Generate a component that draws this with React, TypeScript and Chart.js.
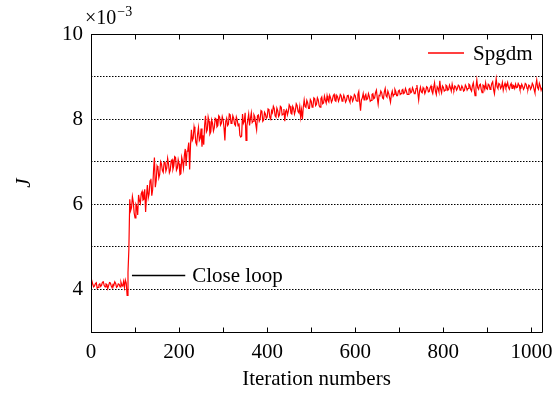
import React, { useEffect, useRef } from "react";
import { Chart, registerables } from "chart.js";

Chart.register(...registerables);

// ---- data (J values in units of 1e-3, sampled every STEP iterations) ----
const STEP = 2;
const jValues = [
  4.15, 4.20, 4.12, 4.06, 4.08, 4.14, 4.16, 4.03, 4.05, 4.11, 4.13, 4.07, 4.10, 4.17, 4.18, 4.09, 4.06, 4.13, 4.12, 4.02, 4.09, 4.16, 4.15, 4.08, 4.04, 4.12, 4.11, 4.18, 4.14, 4.05, 4.07, 4.13,
  4.12, 4.06, 4.17, 4.10, 4.08, 4.19, 4.05, 4.22, 4.15, 3.86, 4.40, 4.95, 6.12, 5.85, 5.92, 6.18, 6.05, 5.80, 5.68, 6.00, 5.95, 5.75, 6.22, 6.08, 6.02, 6.25, 6.30, 6.10, 6.12, 6.35, 5.82, 6.20,
  6.45, 6.15, 6.25, 6.55, 6.60, 6.20, 6.35, 6.80, 7.10, 6.40, 6.55, 6.90, 6.85, 6.62, 6.70, 7.00, 6.95, 6.80, 6.75, 6.98, 7.00, 6.78, 6.85, 7.08, 6.95, 6.74, 6.80, 7.02, 7.05, 6.82, 6.90, 7.12,
  7.10, 6.80, 6.85, 7.05, 6.95, 6.70, 6.72, 7.10, 7.00, 6.85, 7.15, 7.30, 6.90, 7.25, 7.30, 7.45, 6.82, 7.40, 7.75, 7.50, 7.55, 7.82, 7.70, 7.45, 7.40, 7.65, 7.80, 7.50, 7.55, 7.78, 7.35, 7.62,
  7.40, 7.85, 8.08, 7.70, 7.75, 8.05, 7.95, 7.65, 7.70, 7.98, 7.90, 7.72, 7.80, 8.02, 8.00, 7.82, 7.85, 8.08, 8.05, 7.86, 7.90, 8.06, 7.98, 7.80, 7.50, 7.95, 8.02, 7.85, 7.88, 8.12, 8.10, 7.90,
  7.92, 8.08, 8.02, 7.88, 7.85, 8.05, 7.98, 7.84, 7.90, 7.62, 7.58, 7.60, 8.12, 7.90, 7.95, 8.15, 7.50, 7.85, 7.98, 8.12, 7.85, 8.02, 8.15, 7.92, 7.95, 8.10, 8.05, 7.88, 7.75, 8.08, 8.10, 7.95,
  8.00, 8.20, 8.18, 7.95, 7.98, 8.16, 8.12, 8.02, 8.05, 8.24, 8.22, 8.04, 8.00, 8.20, 8.15, 8.30, 8.25, 8.08, 8.05, 8.26, 8.20, 8.06, 8.10, 8.30, 8.28, 8.10, 8.12, 8.24, 7.95, 8.18, 8.22, 8.10,
  8.18, 8.34, 8.30, 8.14, 8.12, 8.30, 8.25, 8.12, 8.20, 8.36, 8.32, 8.18, 8.15, 8.30, 8.05, 8.22, 8.00, 8.28, 8.45, 8.30, 8.28, 8.44, 8.38, 8.25, 8.25, 8.46, 8.42, 8.28, 8.30, 8.50, 8.48, 8.32,
  8.35, 8.50, 8.45, 8.32, 8.28, 8.48, 8.52, 8.36, 8.38, 8.54, 8.45, 8.38, 8.55, 8.44, 8.40, 8.56, 8.50, 8.40, 8.45, 8.55, 8.58, 8.44, 8.42, 8.56, 8.52, 8.42, 8.48, 8.58, 8.55, 8.42, 8.46, 8.56,
  8.50, 8.40, 8.44, 8.55, 8.56, 8.45, 8.40, 8.54, 8.52, 8.42, 8.47, 8.58, 8.55, 8.44, 8.42, 8.58, 8.65, 8.40, 8.20, 8.45, 8.50, 8.60, 8.45, 8.54, 8.58, 8.46, 8.48, 8.60, 8.53, 8.42, 8.44, 8.58,
  8.60, 8.48, 8.50, 8.62, 8.68, 8.50, 8.35, 8.56, 8.55, 8.66, 8.62, 8.50, 8.48, 8.64, 8.72, 8.55, 8.52, 8.66, 8.60, 8.50, 8.40, 8.58, 8.66, 8.54, 8.58, 8.70, 8.65, 8.55, 8.55, 8.66, 8.68, 8.58,
  8.60, 8.68, 8.70, 8.60, 8.62, 8.72, 8.66, 8.58, 8.58, 8.70, 8.72, 8.62, 8.64, 8.74, 8.68, 8.60, 8.60, 8.72, 8.80, 8.62, 8.45, 8.66, 8.75, 8.64, 8.62, 8.74, 8.70, 8.60, 8.66, 8.76, 8.74, 8.64,
  8.65, 8.74, 8.78, 8.66, 8.60, 8.74, 8.85, 8.66, 8.58, 8.76, 8.72, 8.64, 8.90, 8.70, 8.62, 8.78, 8.75, 8.66, 8.68, 8.80, 8.78, 8.68, 8.70, 8.80, 8.74, 8.66, 8.82, 8.72, 8.68, 8.78, 8.76, 8.68,
  8.72, 8.80, 8.78, 8.68, 8.70, 8.78, 8.74, 8.66, 8.68, 8.80, 8.76, 8.68, 8.72, 8.82, 8.80, 8.70, 8.66, 8.78, 8.85, 8.70, 8.55, 8.74, 8.92, 8.74, 8.70, 8.80, 8.82, 8.70, 8.62, 8.80, 8.78, 8.70,
  8.85, 8.72, 8.70, 8.82, 8.80, 8.70, 8.74, 8.84, 8.88, 8.70, 8.60, 8.78, 8.95, 8.76, 8.72, 8.84, 8.82, 8.72, 8.76, 8.86, 8.68, 8.78, 8.84, 8.74, 8.78, 8.86, 8.74, 8.70, 8.80, 8.84, 8.72, 8.80,
  8.78, 8.72, 8.82, 8.74, 8.75, 8.84, 8.80, 8.70, 8.72, 8.82, 8.77, 8.70, 8.74, 8.84, 8.82, 8.72, 8.70, 8.80, 8.78, 8.70, 8.74, 8.84, 8.80, 8.70, 8.62, 8.80, 8.92, 8.74, 8.70, 8.84, 8.78, 8.68,
  8.74,
];
const seriesLabel = "Spgdm";
const seriesColor = "#ff0000";
const xTickValues = [0, 100, 200, 300, 400, 500, 600, 700, 800, 900, 1000];
const xLabelValues = [0, 200, 400, 600, 800, 1000];
const yTickValues = [3, 4, 5, 6, 7, 8, 9, 10];
const yLabelValues = [4, 6, 8, 10];
const xMin = 0;
const xMax = 1024;
const yMin = 3;
const yMax = 10;
const xTitle = "Iteration numbers";
const yTitle = "J";
const exponentBase = "×10";
const exponentPower = "−3";
// annotation "Close loop" (data coordinates)
const annotationText = "Close loop";
const annotationFrom = 93;
const annotationTo = 214;
const annotationLevel = 4.35;

const FONT = '"Liberation Serif", "Times New Roman", serif';
const FS = 21;

const points = jValues.map((v, i) => ({ x: i * STEP, y: v }));

const decorPlugin = {
  id: "decor",
  afterDatasetsDraw(chart: any) {
    const { ctx, chartArea: a, scales } = chart;
    const x = scales.x;
    const y = scales.y;
    ctx.save();
    ctx.strokeStyle = "#000";
    ctx.lineWidth = 1;
    ctx.setLineDash([]);
    const L = Math.round(a.left) + 0.5;
    const T = Math.round(a.top) + 0.5;
    const R = Math.round(a.right) + 0.5;
    const B = Math.round(a.bottom) + 0.5;
    ctx.beginPath();
    ctx.rect(L, T, R - L, B - T);
    ctx.stroke();
    // inward ticks on x axis (top and bottom)
    ctx.beginPath();
    for (const v of xTickValues) {
      const px = Math.round(x.getPixelForValue(v)) + 0.5;
      ctx.moveTo(px, B);
      ctx.lineTo(px, B - 5);
      ctx.moveTo(px, T);
      ctx.lineTo(px, T + 5);
    }
    ctx.stroke();

    // legend (inside, top-right)
    const ly = Math.round(a.top + 19);
    ctx.strokeStyle = seriesColor;
    ctx.lineWidth = 1.5;
    ctx.beginPath();
    ctx.moveTo(a.right - 114, ly);
    ctx.lineTo(a.right - 78, ly);
    ctx.stroke();
    ctx.fillStyle = "#000";
    ctx.font = `${FS}px ${FONT}`;
    ctx.textBaseline = "middle";
    ctx.textAlign = "left";
    ctx.fillText(seriesLabel, a.right - 69, ly + 1);

    // annotation
    const ay = Math.round(y.getPixelForValue(annotationLevel)) + 0.5;
    const ax1 = x.getPixelForValue(annotationFrom);
    const ax2 = x.getPixelForValue(annotationTo);
    ctx.strokeStyle = "#000";
    ctx.lineWidth = 1.3;
    ctx.beginPath();
    ctx.moveTo(ax1, ay);
    ctx.lineTo(ax2, ay);
    ctx.stroke();
    ctx.fillText(annotationText, ax2 + 7, ay + 1);

    // exponent label
    ctx.font = `20px ${FONT}`;
    ctx.textBaseline = "alphabetic";
    const ex = a.left - 6;
    const ey = a.top - 10;
    ctx.fillText(exponentBase, ex, ey);
    const w = ctx.measureText(exponentBase).width;
    ctx.font = `14px ${FONT}`;
    ctx.fillText(exponentPower, ex + w + 1, ey - 8);
    ctx.restore();
  },
};

export default function App() {
  const ref = useRef<HTMLCanvasElement | null>(null);
  useEffect(() => {
    if (!ref.current) return;
    const chart = new Chart(ref.current, {
      type: "line",
      data: {
        datasets: [
          {
            label: seriesLabel,
            data: points,
            borderColor: seriesColor,
            borderWidth: 1.2,
            pointRadius: 0,
            tension: 0,
            fill: false,
          },
        ],
      },
      options: {
        animation: false,
        responsive: false,
        devicePixelRatio: 1,
        layout: { padding: { left: 0, right: 10, top: 34, bottom: 0 } },
        plugins: { legend: { display: false }, tooltip: { enabled: false } },
        scales: {
          x: {
            type: "linear",
            min: xMin,
            max: xMax,
            afterBuildTicks: (s: any) => {
              s.ticks = xTickValues.map((v) => ({ value: v }));
            },
            afterFit: (s: any) => {
              s.height = 62;
              s.paddingLeft = 0;
              s.paddingRight = 0;
            },
            grid: { display: false, drawTicks: false },
            border: { display: false },
            ticks: {
              autoSkip: false,
              maxRotation: 0,
              padding: 8,
              color: "#000",
              font: { family: FONT, size: FS },
              callback: (v: any) => (xLabelValues.includes(Number(v)) ? String(v) : ""),
            },
            title: {
              display: true,
              text: xTitle,
              color: "#000",
              font: { family: FONT, size: FS },
              padding: { top: 0, bottom: 2 },
            },
          },
          y: {
            type: "linear",
            min: yMin,
            max: yMax,
            afterBuildTicks: (s: any) => {
              s.ticks = yTickValues.map((v) => ({ value: v }));
            },
            afterFit: (s: any) => {
              s.width = 91;
              s.paddingTop = 0;
              s.paddingBottom = 0;
            },
            grid: { display: true, drawTicks: false, color: "#000", lineWidth: 1 },
            border: { display: false, dash: [1.5, 1.5] },
            ticks: {
              autoSkip: false,
              padding: 8,
              color: "#000",
              font: { family: FONT, size: FS },
              callback: (v: any) => (yLabelValues.includes(Number(v)) ? String(v) : ""),
            },
            title: {
              display: true,
              text: yTitle,
              color: "#000",
              font: { family: FONT, size: FS, style: "italic" },
              padding: { top: 12, bottom: 0 },
            },
          },
        },
      },
      plugins: [decorPlugin],
    } as any);
    return () => chart.destroy();
  }, []);
  return (
    <div style={{ position: "fixed", left: 0, top: 0, width: 552, height: 394, background: "#fff" }}>
      <canvas ref={ref} width={552} height={394} />
    </div>
  );
}
